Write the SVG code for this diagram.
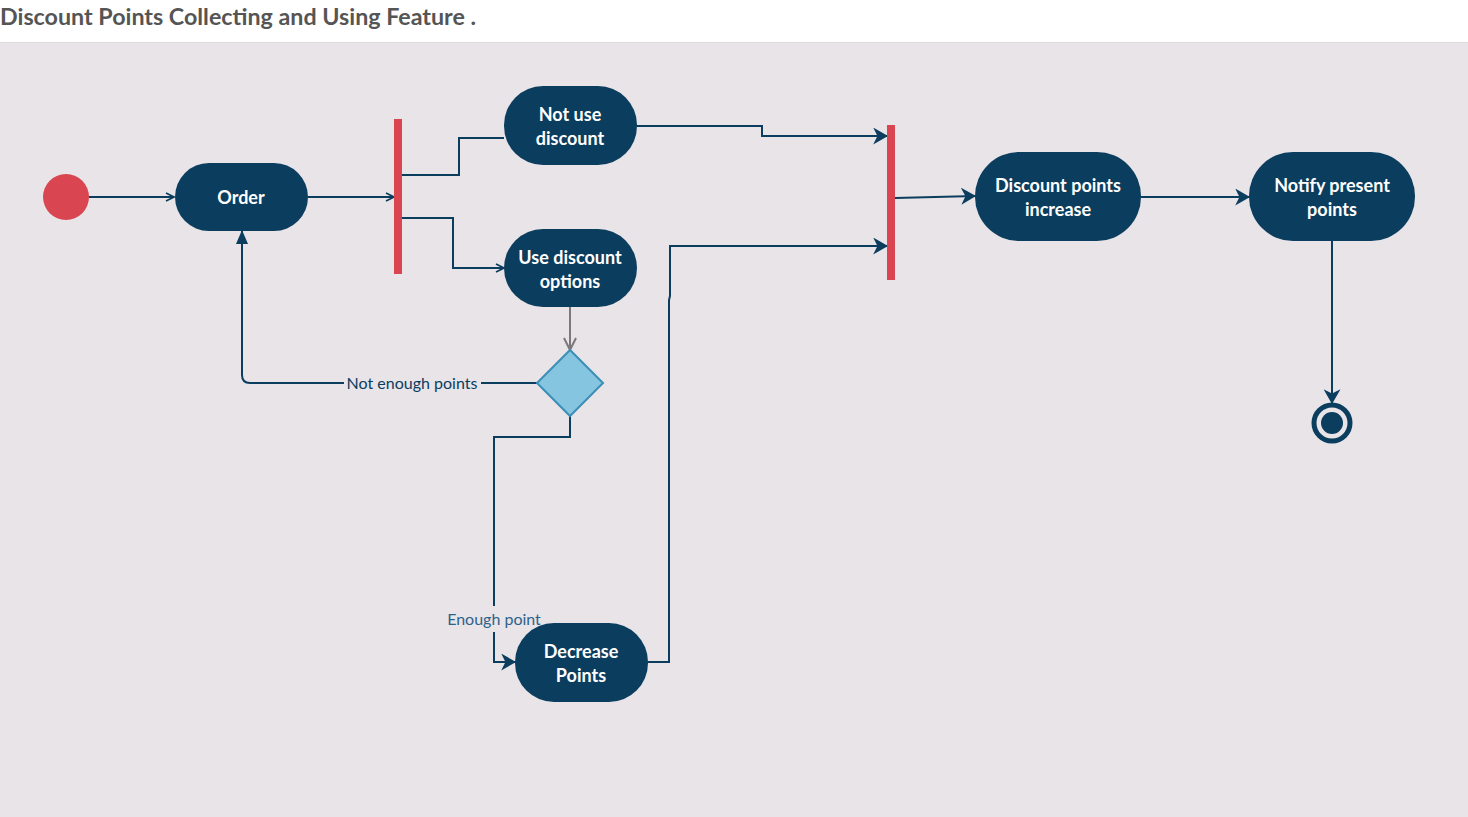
<svg xmlns="http://www.w3.org/2000/svg" width="1468" height="817" viewBox="0 0 1468 817">
<defs>
<style>
.node{fill:#0b3d5e}
.lbl{font-family:Lato,"Open Sans","Liberation Sans",sans-serif;font-weight:bold;font-size:18px;fill:#ffffff;text-anchor:middle}
.bar{fill:#d94550}
.c{fill:none;stroke:#0b3d5e;stroke-width:2}
.ctext{font-family:Lato,"Open Sans","Liberation Sans",sans-serif;font-size:16px;fill:#0b3d5e;text-anchor:middle}
</style>
<marker id="open" viewBox="0 0 10 10" refX="9" refY="5" markerWidth="10" markerHeight="10" markerUnits="userSpaceOnUse" orient="auto">
<path d="M1,1 L9,5 L1,9" fill="none" stroke="#0b3d5e" stroke-width="1.6"/>
</marker>
<marker id="openGray" viewBox="0 0 14 14" refX="13" refY="7" markerWidth="14" markerHeight="14" markerUnits="userSpaceOnUse" orient="auto">
<path d="M1,1 L13,7 L1,13" fill="none" stroke="#7a7a7a" stroke-width="2"/>
</marker>
<marker id="bold" viewBox="0 0 14 16" refX="13" refY="8" markerWidth="15" markerHeight="17" markerUnits="userSpaceOnUse" orient="auto">
<path d="M0,0 L14,8 L0,16 L4,8 z" fill="#0b3d5e"/>
</marker>
<marker id="tri" viewBox="0 0 14 12" refX="13" refY="6" markerWidth="14" markerHeight="12" markerUnits="userSpaceOnUse" orient="auto">
<path d="M0,0 L14,6 L0,12 z" fill="#0b3d5e"/>
</marker>
</defs>
<rect x="0" y="0" width="1468" height="817" fill="#ffffff"/>
<rect x="0" y="42" width="1468" height="775" fill="#e8e4e8"/>
<line x1="0" y1="42.5" x2="1468" y2="42.5" stroke="#dcdcdc" stroke-width="1"/>
<text x="0" y="25" font-family="Lato,'Open Sans','Liberation Sans',sans-serif" font-size="23" font-weight="bold" fill="#555555" textLength="476" lengthAdjust="spacingAndGlyphs">Discount Points Collecting and Using Feature .</text>

<g id="connectors">
<path class="c" d="M89,197 H174" marker-end="url(#open)"/>
<path class="c" d="M308,197 H394" marker-end="url(#open)"/>
<path class="c" d="M401,175 H459 V138 H504"/>
<path class="c" d="M401,218 H453 V268 H504" marker-end="url(#open)"/>
<path fill="none" stroke="#7a7a7a" stroke-width="2" d="M570,307 V350" marker-end="url(#openGray)"/>
<path class="c" d="M537,383 H250 Q242,383 242,375 V231" marker-end="url(#tri)"/>
<rect x="344" y="372" width="137" height="22" fill="#e8e4e8"/>
<text class="ctext" x="412" y="389">Not enough points</text>
<path class="c" d="M570,416 V437 H494 V662 H515" marker-end="url(#bold)"/>
<rect x="446" y="606" width="96" height="26" fill="#e8e4e8"/>
<text class="ctext" x="494" y="625" fill="#2d628a" style="fill:#2d628a">Enough point</text>
<path class="c" d="M648,662 H669 V300 L670,296 V246 H887" marker-end="url(#bold)"/>
<path class="c" d="M637,126 H762 V136 H887" marker-end="url(#bold)"/>
<path class="c" d="M895,198 L975,196" marker-end="url(#bold)"/>
<path class="c" d="M1141,197 H1249" marker-end="url(#bold)"/>
<path class="c" d="M1332,241 V403" marker-end="url(#bold)"/>
</g>

<g id="start"><circle cx="66" cy="197" r="23" fill="#d94550"/></g>
<g id="order"><rect class="node" x="175" y="163" width="133" height="68" rx="34"/><text class="lbl" x="241" y="204">Order</text></g>
<g id="fork"><rect class="bar" x="394" y="119" width="8" height="155"/></g>
<g id="notuse"><rect class="node" x="504" y="86" width="133" height="79" rx="39"/><text class="lbl" x="570" y="121">Not use</text><text class="lbl" x="570" y="145">discount</text></g>
<g id="usediscount"><rect class="node" x="504" y="229" width="133" height="78" rx="39"/><text class="lbl" x="570" y="264">Use discount</text><text class="lbl" x="570" y="288">options</text></g>
<g id="decision"><path d="M570,350 L603,383 L570,416 L537,383 Z" fill="#86c5df" stroke="#3a8fb7" stroke-width="2"/></g>
<g id="decrease"><rect class="node" x="515" y="623" width="133" height="79" rx="39"/><text class="lbl" x="581" y="658">Decrease</text><text class="lbl" x="581" y="682">Points</text></g>
<g id="join"><rect class="bar" x="887" y="125" width="8" height="155"/></g>
<g id="increase"><rect class="node" x="975" y="152" width="166" height="89" rx="44"/><text class="lbl" x="1058" y="192">Discount points</text><text class="lbl" x="1058" y="216">increase</text></g>
<g id="notify"><rect class="node" x="1249" y="152" width="166" height="89" rx="44"/><text class="lbl" x="1332" y="192">Notify present</text><text class="lbl" x="1332" y="216">points</text></g>
<g id="end"><circle cx="1332" cy="423" r="18" fill="none" stroke="#0b3d5e" stroke-width="5"/><circle cx="1332" cy="423" r="11" fill="#0b3d5e"/></g>
</svg>
